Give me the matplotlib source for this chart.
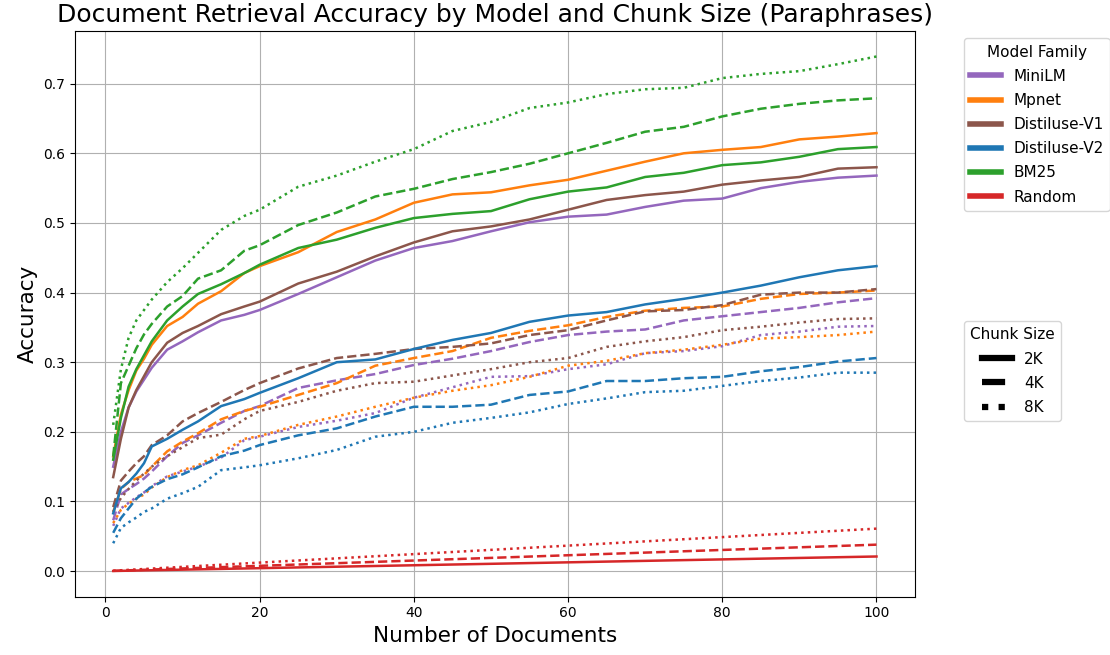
import matplotlib
matplotlib.use("Agg")
import matplotlib.pyplot as plt
from matplotlib.lines import Line2D

docs = [1, 2, 3, 4, 5, 6, 8, 10, 12, 15, 18, 20, 25, 30, 35, 40, 45, 50,
        55, 60, 65, 70, 75, 80, 85, 90, 95, 100]

# accuracy per model family and chunk size
minilm_2k = [0.150, 0.200, 0.235, 0.258, 0.275, 0.292, 0.318, 0.330, 0.343, 0.360, 0.368, 0.375, 0.398, 0.422,
             0.446, 0.464, 0.474, 0.488, 0.501, 0.509, 0.512, 0.523, 0.532, 0.535, 0.550, 0.559, 0.565, 0.568]
minilm_4k = [0.073, 0.110, 0.118, 0.125, 0.133, 0.143, 0.165, 0.184, 0.195, 0.213, 0.230, 0.237, 0.263, 0.274,
             0.283, 0.296, 0.305, 0.316, 0.329, 0.339, 0.344, 0.347, 0.360, 0.366, 0.372, 0.378, 0.386, 0.392]
minilm_8k = [0.065, 0.090, 0.098, 0.106, 0.113, 0.122, 0.136, 0.143, 0.150, 0.163, 0.188, 0.193, 0.207, 0.216,
             0.227, 0.249, 0.264, 0.279, 0.280, 0.290, 0.297, 0.313, 0.316, 0.323, 0.339, 0.344, 0.351, 0.352]

mpnet_2k = [0.165, 0.225, 0.260, 0.288, 0.305, 0.325, 0.352, 0.365, 0.384, 0.402, 0.428, 0.438, 0.458, 0.487,
            0.505, 0.529, 0.541, 0.544, 0.554, 0.562, 0.575, 0.588, 0.600, 0.605, 0.609, 0.620, 0.624, 0.629]
mpnet_4k = [0.085, 0.118, 0.128, 0.133, 0.138, 0.150, 0.172, 0.186, 0.198, 0.218, 0.230, 0.236, 0.253, 0.270,
            0.295, 0.306, 0.316, 0.335, 0.345, 0.353, 0.365, 0.374, 0.378, 0.380, 0.391, 0.398, 0.400, 0.403]
mpnet_8k = [0.069, 0.088, 0.097, 0.104, 0.110, 0.120, 0.135, 0.145, 0.152, 0.170, 0.190, 0.194, 0.210, 0.222,
            0.236, 0.249, 0.259, 0.267, 0.279, 0.295, 0.302, 0.313, 0.318, 0.325, 0.334, 0.336, 0.339, 0.344]

dv1_2k = [0.135, 0.190, 0.235, 0.260, 0.280, 0.300, 0.328, 0.342, 0.352, 0.369, 0.380, 0.387, 0.413, 0.430,
          0.452, 0.472, 0.488, 0.495, 0.505, 0.519, 0.533, 0.540, 0.545, 0.555, 0.561, 0.566, 0.578, 0.580]
dv1_4k = [0.092, 0.130, 0.143, 0.155, 0.165, 0.181, 0.195, 0.215, 0.227, 0.243, 0.260, 0.270, 0.291, 0.306,
          0.312, 0.319, 0.322, 0.327, 0.339, 0.346, 0.360, 0.373, 0.375, 0.382, 0.397, 0.400, 0.400, 0.405]
dv1_8k = [0.085, 0.105, 0.118, 0.130, 0.140, 0.150, 0.165, 0.178, 0.191, 0.196, 0.218, 0.230, 0.243, 0.259,
          0.270, 0.272, 0.281, 0.290, 0.300, 0.306, 0.322, 0.330, 0.336, 0.346, 0.351, 0.357, 0.362, 0.363]

dv2_2k = [0.083, 0.119, 0.128, 0.140, 0.155, 0.179, 0.190, 0.203, 0.215, 0.237, 0.247, 0.256, 0.277, 0.300,
          0.304, 0.319, 0.332, 0.342, 0.358, 0.367, 0.372, 0.383, 0.391, 0.400, 0.410, 0.422, 0.432, 0.438]
dv2_4k = [0.055, 0.076, 0.090, 0.104, 0.113, 0.121, 0.132, 0.139, 0.149, 0.165, 0.173, 0.181, 0.195, 0.205,
          0.222, 0.236, 0.236, 0.239, 0.253, 0.258, 0.273, 0.273, 0.277, 0.279, 0.287, 0.293, 0.301, 0.306]
dv2_8k = [0.040, 0.062, 0.070, 0.077, 0.085, 0.090, 0.104, 0.112, 0.121, 0.145, 0.149, 0.152, 0.162, 0.174,
          0.193, 0.200, 0.213, 0.220, 0.228, 0.240, 0.248, 0.257, 0.259, 0.266, 0.273, 0.278, 0.285, 0.285]

bm25_2k = [0.160, 0.220, 0.265, 0.290, 0.310, 0.330, 0.360, 0.380, 0.398, 0.412, 0.428, 0.440, 0.464, 0.476,
           0.493, 0.507, 0.513, 0.517, 0.534, 0.545, 0.551, 0.566, 0.572, 0.583, 0.587, 0.595, 0.606, 0.609]
bm25_4k = [0.165, 0.270, 0.295, 0.320, 0.340, 0.355, 0.380, 0.395, 0.420, 0.432, 0.460, 0.468, 0.497, 0.515,
           0.538, 0.549, 0.563, 0.573, 0.585, 0.600, 0.615, 0.631, 0.638, 0.653, 0.664, 0.671, 0.676, 0.679]
bm25_8k = [0.210, 0.290, 0.335, 0.360, 0.375, 0.390, 0.415, 0.435, 0.457, 0.490, 0.510, 0.519, 0.552, 0.568,
           0.588, 0.606, 0.632, 0.645, 0.665, 0.673, 0.685, 0.692, 0.694, 0.708, 0.714, 0.718, 0.728, 0.739]

rand_docs = [1, 25, 50, 75, 100]
random_2k = [0.0002, 0.0053, 0.0105, 0.0158, 0.021]
random_4k = [0.0004, 0.0095, 0.0190, 0.0285, 0.038]
random_8k = [0.0006, 0.0153, 0.0305, 0.0458, 0.061]

families = ["MiniLM", "Mpnet", "Distiluse-V1", "Distiluse-V2", "BM25", "Random"]
chunks = ["2K", "4K", "8K"]
colors = ["#9467bd", "#ff7f0e", "#8c564b", "#1f77b4", "#2ca02c", "#d62728"]
styles = ["-", "--", ":"]

series = {
    "MiniLM": (docs, [minilm_2k, minilm_4k, minilm_8k]),
    "Mpnet": (docs, [mpnet_2k, mpnet_4k, mpnet_8k]),
    "Distiluse-V1": (docs, [dv1_2k, dv1_4k, dv1_8k]),
    "Distiluse-V2": (docs, [dv2_2k, dv2_4k, dv2_8k]),
    "BM25": (docs, [bm25_2k, bm25_4k, bm25_8k]),
    "Random": (rand_docs, [random_2k, random_4k, random_8k]),
}

fig = plt.figure(figsize=(11.1, 6.55), dpi=100)
ax = fig.add_axes([0.0676, 0.089, 0.7564, 0.864])

for fam, col in zip(families, colors):
    xs, ys = series[fam]
    for y, ls in zip(ys, styles):
        ax.plot(xs, y, color=col, linestyle=ls, linewidth=1.8)

ax.grid(True)
ax.set_title("Document Retrieval Accuracy by Model and Chunk Size (Paraphrases)", fontsize=18)
ax.set_xlabel("Number of Documents", fontsize=15.5)
ax.set_ylabel("Accuracy", fontsize=15.5)

# two separate legends outside the axes
fam_handles = [Line2D([0], [0], color=c, lw=4) for c in colors]
leg1 = ax.legend(fam_handles, families, title="Model Family", loc="upper left",
                 bbox_to_anchor=(1.05, 1), fontsize=11, title_fontsize=11,
                 labelspacing=0.6)
ax.add_artist(leg1)
chunk_handles = [Line2D([0], [0], color="black", lw=4.5, linestyle=ls) for ls in styles]
ax.legend(chunk_handles, chunks, title="Chunk Size", loc="upper left",
          bbox_to_anchor=(1.05, 0.5), fontsize=11, title_fontsize=11,
          labelspacing=0.6)

fig.savefig("out.png", dpi=100)
